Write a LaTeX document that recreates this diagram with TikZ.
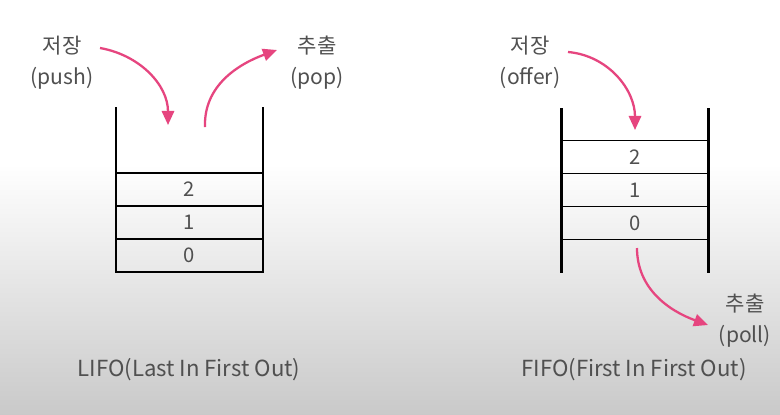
\documentclass[tikz,border=0pt]{standalone}
\usepackage{fontspec}
\setmainfont{Noto Sans CJK KR}
\usepackage{tikz}
\usetikzlibrary{positioning}
\usetikzlibrary{arrows.meta}
\definecolor{flowpink}{HTML}{E6457F}
\definecolor{textgray}{HTML}{505050}

\begin{document}
\begin{tikzpicture}[
    x=0.02cm, y=0.02cm,
    cell/.style={rectangle, draw, line width=0.8pt, minimum width=2.94cm, minimum height=0.66cm,
                 inner sep=0pt, outer sep=0pt, text=textgray, font=\fontsize{11.5}{13}\selectfont},
    wall/.style={line width=1.2pt},
    flow/.style={-{Triangle[length=8pt, width=7pt]}, line width=1.3pt, flowpink},
    lbl/.style={align=center, text=textgray, font=\fontsize{12}{17.6}\selectfont},
    title/.style={text=textgray, font=\fontsize{12.6}{15}\selectfont}
]
    % Background
    \fill[white] (0,0) rectangle (780,414);
    \shade[top color=white, bottom color=black!21] (0,0) rectangle (780,250);

    % LIFO stack
    \node[cell] (l2) at (189.5,224.5) {2};
    \node[cell, below=0pt of l2] (l1) {1};
    \node[cell, below=0pt of l1] (l0) {0};
    \draw[wall] (116,307) -- (116,142) -- (263,142) -- (263,307);

    % FIFO queue
    \node[cell] (f2) at (635,257) {2};
    \node[cell, below=0pt of f2] (f1) {1};
    \node[cell, below=0pt of f1] (f0) {0};
    \draw[wall] (561.5,306) -- (561.5,141);
    \draw[wall] (708.5,306) -- (708.5,141);

    % Labels
    \node[lbl] (push) at (62,351.5) {저장\\(push)};
    \node[lbl] (pop) at (317,351.5) {추출\\(pop)};
    \node[lbl] (offer) at (530,351.5) {저장\\(offer)};
    \node[lbl] (poll) at (745,93) {추출\\(poll)};

    % Arrow ends
    \coordinate (pushin) at (100,366);
    \coordinate (pushout) at (168,289);
    \coordinate (popin) at (205,287);
    \coordinate (popout) at (277,364);
    \coordinate (offerin) at (568,362);
    \coordinate (offerout) at (635,284);
    \coordinate (pollin) at (637,166);
    \coordinate (pollout) at (708,89);

    % Arrows
    \draw[flow] (pushin) to[out=-10, in=90] (pushout);
    \draw[flow] (popin) to[out=92, in=200] (popout);
    \draw[flow] (offerin) to[out=-5, in=90] (offerout);
    \draw[flow] (pollin) to[out=-90, in=160] (pollout);

    % Titles
    \node[title] (lifo) at (189,44) {LIFO(Last In First Out)};
    \node[title] (fifo) at (634,44) {FIFO(First In First Out)};
\end{tikzpicture}
\end{document}
